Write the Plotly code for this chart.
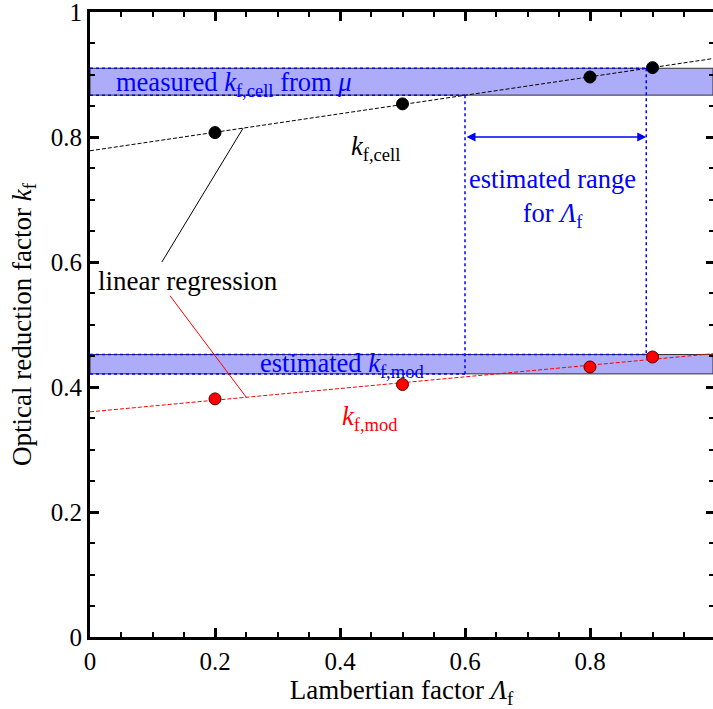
import numpy as np
import plotly.graph_objects as go

# ---- data ----
lam = [0.2, 0.5, 0.8, 0.9]
kf_cell = [0.807, 0.853, 0.896, 0.911]
kf_mod = [0.381, 0.404, 0.432, 0.448]

meas_cell_lo, meas_cell_hi = 0.867, 0.910
est_mod_lo, est_mod_hi = 0.421, 0.452
lam_lo, lam_hi = 0.60, 0.89

x_ticks = [0, 0.2, 0.4, 0.6, 0.8]
x_tick_labels = ["0", "0.2", "0.4", "0.6", "0.8"]
y_ticks = [0, 0.2, 0.4, 0.6, 0.8, 1.0]
y_tick_labels = ["0", "0.2", "0.4", "0.6", "0.8", "1"]

XMAX = 0.9968
FONT = "Liberation Serif"
BLUE = "#0000ff"
BAND = "rgb(172,172,248)"
ANN = 26.5

# regressions
p_cell = np.polyfit(lam, kf_cell, 1)
p_mod = np.polyfit(lam, kf_mod, 1)
xr = np.array([0.0, XMAX])

fig = go.Figure()

# bands
for lo, hi, xv_lo, xv_hi in [(meas_cell_lo, meas_cell_hi, lam_lo, lam_hi),
                              (est_mod_lo, est_mod_hi, lam_lo, lam_hi)]:
    fig.add_shape(type="rect", x0=0, x1=XMAX, y0=lo, y1=hi, xref="x", yref="y",
                  fillcolor=BAND, line=dict(color="#333333", width=1), layer="below")
    fig.add_shape(type="line", x0=0, x1=xv_hi, y0=hi, y1=hi,
                  line=dict(color=BLUE, width=1.5, dash="dot"))
    fig.add_shape(type="line", x0=0, x1=xv_lo, y0=lo, y1=lo,
                  line=dict(color=BLUE, width=1.5, dash="dot"))

# vertical range lines
fig.add_shape(type="line", x0=lam_lo, x1=lam_lo, y0=meas_cell_lo, y1=est_mod_lo,
              line=dict(color=BLUE, width=1.5, dash="dot"))
fig.add_shape(type="line", x0=lam_hi, x1=lam_hi, y0=meas_cell_hi, y1=est_mod_hi,
              line=dict(color=BLUE, width=1.5, dash="dot"))

# regression lines
fig.add_trace(go.Scatter(x=xr, y=np.polyval(p_cell, xr), mode="lines",
                         line=dict(color="black", width=1, dash="4px,2px"), hoverinfo="skip"))
fig.add_trace(go.Scatter(x=xr, y=np.polyval(p_mod, xr), mode="lines",
                         line=dict(color="red", width=1, dash="4px,2px"), hoverinfo="skip"))

# points
fig.add_trace(go.Scatter(x=lam, y=kf_cell, mode="markers",
                         marker=dict(color="black", size=12, line=dict(color="black", width=1))))
fig.add_trace(go.Scatter(x=lam, y=kf_mod, mode="markers",
                         marker=dict(color="red", size=12, line=dict(color="#550000", width=1))))

# leader lines for "linear regression"
lx_c = 0.245
fig.add_shape(type="line", x0=0.115, y0=0.600, x1=lx_c, y1=float(np.polyval(p_cell, lx_c)),
              line=dict(color="black", width=1))
lx_m = 0.25
fig.add_shape(type="line", x0=0.128, y0=0.546, x1=lx_m, y1=float(np.polyval(p_mod, lx_m)),
              line=dict(color="red", width=1))

# double arrow
fig.add_annotation(x=lam_hi, y=0.8, ax=lam_lo, ay=0.8, xref="x", yref="y",
                   axref="x", ayref="y", text="", showarrow=True,
                   arrowhead=2, arrowside="end+start", arrowsize=1.2,
                   arrowwidth=1.5, arrowcolor=BLUE)

def txt(x, y, s, color, size=ANN):
    fig.add_annotation(x=x, y=y, xref="x", yref="y", text=s, showarrow=False,
                       font=dict(family=FONT, size=size, color=color))

txt(0.23, 0.885, "measured <i>k</i><sub>f,cell</sub> from <i>μ</i>", BLUE)
txt(0.456, 0.783, "<i>k</i><sub>f,cell</sub>", "black")
txt(0.74, 0.703, "estimated range<br>for <i>Λ</i><sub>f</sub>", BLUE)
txt(0.157, 0.57, "linear regression", "black", 27)
txt(0.403, 0.436, "estimated <i>k</i><sub>f,mod</sub>", BLUE)
txt(0.448, 0.350, "<i>k</i><sub>f,mod</sub>", "red")

axis_common = dict(showgrid=False, zeroline=False, ticks="inside", automargin=False,
                   tickcolor="black", tickwidth=3, ticklen=9, ticklabeloverflow="allow",
                   tickfont=dict(family=FONT, size=25, color="black"))

fig.update_xaxes(range=[0, XMAX], tickvals=x_ticks, ticktext=x_tick_labels,
                 showline=True, linecolor="black", linewidth=3, mirror="ticks",
                 minor=dict(dtick=0.05, ticks="inside", ticklen=5, tickwidth=1.5, tickcolor="black"),
                 title=dict(text="Lambertian factor <i>Λ</i><sub>f</sub>",
                            font=dict(family=FONT, size=27, color="black"), standoff=10),
                 **axis_common)
fig.update_yaxes(range=[0, 1], tickvals=y_ticks, ticktext=y_tick_labels,
                 showline=True, linecolor="black", linewidth=3, mirror=False,
                 minor=dict(dtick=0.05, ticks="inside", ticklen=5, tickwidth=1.5, tickcolor="black"),
                 title=dict(text="Optical reduction factor <i>k</i><sub>f</sub>",
                            font=dict(family=FONT, size=27, color="black"), standoff=12),
                 **axis_common)

# right-side ticks without axis line
fig.update_layout(yaxis2=dict(overlaying="y", side="right", anchor="x", range=[0, 1],
                              tickvals=y_ticks, showticklabels=False, showline=False,
                              showgrid=False, zeroline=False, ticks="inside", automargin=False,
                              tickcolor="black", tickwidth=3, ticklen=7,
                              minor=dict(dtick=0.05, ticks="inside", ticklen=4,
                                         tickwidth=1.5, tickcolor="black")))
fig.add_trace(go.Scatter(x=[0.5], y=[0.5], yaxis="y2", mode="markers",
                         marker=dict(opacity=0), hoverinfo="skip"))

fig.update_layout(width=713, height=709, showlegend=False,
                  margin=dict(l=90, r=0, t=12, b=72),
                  plot_bgcolor="white", paper_bgcolor="white")

fig.write_html("out.html", config={"displayModeBar": False},
               post_script="document.body.style.margin='0';document.body.style.overflow='hidden';")
